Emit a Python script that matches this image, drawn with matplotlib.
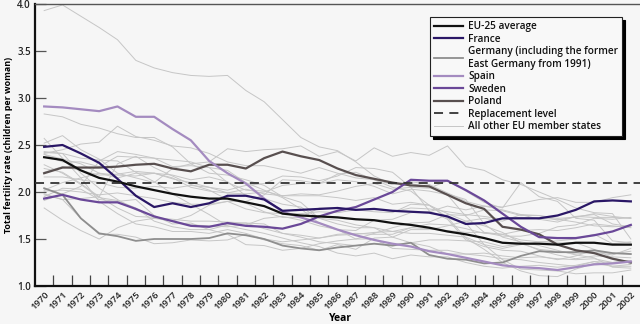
import numpy as np
import matplotlib
matplotlib.use('Agg')
import matplotlib.pyplot as plt
from matplotlib.ticker import FixedLocator, FormatStrFormatter

years = list(range(1970, 2003))

eu25 = [2.37, 2.34, 2.23, 2.15, 2.11, 2.06, 2.02, 1.98, 1.95, 1.93, 1.93,
        1.89, 1.85, 1.77, 1.75, 1.74, 1.73, 1.71, 1.70, 1.67, 1.65, 1.62,
        1.58, 1.55, 1.51, 1.46, 1.45, 1.45, 1.44, 1.46, 1.46, 1.44, 1.44]
france = [2.48, 2.50, 2.41, 2.31, 2.14, 1.96, 1.84, 1.88, 1.84, 1.88, 1.96,
          1.96, 1.92, 1.80, 1.81, 1.82, 1.83, 1.81, 1.82, 1.80, 1.79, 1.78,
          1.74, 1.66, 1.67, 1.72, 1.72, 1.72, 1.75, 1.81, 1.90, 1.91, 1.90]
germany = [2.04, 1.97, 1.72, 1.56, 1.53, 1.48, 1.50, 1.50, 1.50, 1.51, 1.56,
           1.54, 1.50, 1.43, 1.40, 1.38, 1.41, 1.43, 1.45, 1.43, 1.46, 1.33,
           1.29, 1.28, 1.24, 1.25, 1.32, 1.37, 1.36, 1.36, 1.38, 1.35, 1.34]
spain = [2.91, 2.90, 2.88, 2.86, 2.91, 2.80, 2.80, 2.67, 2.55, 2.33, 2.20,
         2.09, 1.93, 1.79, 1.73, 1.67, 1.60, 1.54, 1.49, 1.45, 1.42, 1.37,
         1.34, 1.30, 1.26, 1.22, 1.20, 1.19, 1.17, 1.20, 1.23, 1.24, 1.26]
sweden = [1.93, 1.97, 1.92, 1.89, 1.89, 1.82, 1.74, 1.69, 1.64, 1.63, 1.67,
          1.64, 1.63, 1.61, 1.66, 1.74, 1.80, 1.84, 1.92, 2.00, 2.13, 2.12,
          2.12, 2.02, 1.91, 1.77, 1.63, 1.52, 1.51, 1.51, 1.54, 1.58, 1.65]
poland = [2.20, 2.26, 2.26, 2.26, 2.27, 2.29, 2.30, 2.25, 2.22, 2.29, 2.29,
          2.25, 2.36, 2.43, 2.38, 2.34, 2.25, 2.18, 2.14, 2.10, 2.07, 2.06,
          1.97, 1.88, 1.82, 1.63, 1.60, 1.55, 1.44, 1.38, 1.35, 1.29, 1.25]
replacement = 2.1

# remaining member states, one row per country
others = [
    [2.29, 2.20, 2.08, 1.94, 1.91, 1.83, 1.69, 1.63, 1.60, 1.60, 1.65, 1.67, 1.66, 1.56, 1.52, 1.47, 1.45,
     1.43, 1.45, 1.44, 1.46, 1.49, 1.49, 1.48, 1.47, 1.42, 1.45, 1.39, 1.37, 1.34, 1.36, 1.33, 1.40],
    [2.25, 2.21, 2.09, 1.95, 1.83, 1.74, 1.73, 1.71, 1.69, 1.69, 1.68, 1.67, 1.61, 1.56, 1.54, 1.51, 1.54,
     1.55, 1.57, 1.58, 1.62, 1.66, 1.65, 1.61, 1.56, 1.55, 1.59, 1.60, 1.59, 1.62, 1.66, 1.64, 1.62],
    [2.52, 2.60, 2.45, 2.35, 2.20, 2.15, 2.10, 2.25, 2.30, 2.32, 2.46, 2.43, 2.45, 2.46, 2.49, 2.38, 2.43,
     2.33, 2.47, 2.38, 2.42, 2.39, 2.49, 2.27, 2.23, 2.13, 2.08, 2.00, 1.92, 1.83, 1.78, 1.77, 1.50],
    [1.91, 1.98, 2.06, 2.33, 2.43, 2.40, 2.36, 2.34, 2.32, 2.26, 2.10, 2.02, 2.01, 1.96, 1.96, 1.96, 1.94,
     1.91, 1.94, 1.87, 1.89, 1.86, 1.72, 1.67, 1.44, 1.28, 1.18, 1.17, 1.16, 1.13, 1.14, 1.14, 1.17],
    [1.95, 2.04, 2.03, 1.92, 1.90, 1.92, 1.75, 1.66, 1.67, 1.60, 1.55, 1.44, 1.43, 1.38, 1.40, 1.45, 1.48,
     1.50, 1.56, 1.62, 1.67, 1.68, 1.76, 1.75, 1.81, 1.80, 1.75, 1.75, 1.72, 1.73, 1.77, 1.74, 1.72],
    [2.16, 2.16, 2.13, 2.10, 2.05, 2.04, 2.06, 2.04, 2.07, 2.05, 2.02, 2.07, 2.09, 2.17, 2.16, 2.12, 2.17,
     2.26, 2.25, 2.21, 2.05, 1.80, 1.71, 1.49, 1.42, 1.38, 1.37, 1.32, 1.28, 1.32, 1.38, 1.34, 1.37],
    [1.83, 1.70, 1.59, 1.50, 1.62, 1.69, 1.72, 1.69, 1.65, 1.64, 1.63, 1.65, 1.72, 1.74, 1.70, 1.64, 1.60,
     1.59, 1.70, 1.71, 1.78, 1.79, 1.85, 1.81, 1.85, 1.81, 1.76, 1.75, 1.70, 1.74, 1.73, 1.73, 1.72],
    [2.40, 2.32, 2.32, 2.27, 2.38, 2.37, 2.36, 2.27, 2.28, 2.26, 2.23, 2.10, 2.02, 1.94, 1.82, 1.67, 1.60,
     1.50, 1.50, 1.40, 1.39, 1.38, 1.38, 1.34, 1.35, 1.32, 1.30, 1.31, 1.29, 1.28, 1.29, 1.25, 1.27],
    [1.98, 1.92, 1.93, 1.95, 2.30, 2.38, 2.26, 2.17, 2.08, 2.02, 1.92, 1.88, 1.79, 1.73, 1.73, 1.83, 1.83,
     1.81, 1.79, 1.78, 1.87, 1.86, 1.77, 1.69, 1.64, 1.57, 1.46, 1.38, 1.33, 1.29, 1.32, 1.31, 1.30],
    [3.93, 3.99, 3.87, 3.75, 3.62, 3.40, 3.32, 3.27, 3.24, 3.23, 3.24, 3.08, 2.96, 2.77, 2.58, 2.48, 2.44,
     2.32, 2.17, 2.08, 2.11, 2.08, 1.99, 1.90, 1.85, 1.84, 1.88, 1.92, 1.94, 1.89, 1.89, 1.94, 1.97],
    [2.42, 2.41, 2.36, 2.34, 2.33, 2.21, 2.11, 1.98, 1.87, 1.76, 1.64, 1.60, 1.56, 1.51, 1.46, 1.42, 1.35,
     1.32, 1.35, 1.29, 1.33, 1.31, 1.31, 1.25, 1.21, 1.19, 1.21, 1.22, 1.20, 1.22, 1.26, 1.25, 1.27],
    [2.01, 2.02, 2.00, 1.97, 1.99, 1.96, 1.93, 1.89, 1.87, 1.87, 1.90, 1.90, 1.97, 2.13, 2.12, 2.09, 2.19,
     2.21, 2.13, 2.05, 2.01, 1.86, 1.73, 1.51, 1.39, 1.25, 1.16, 1.11, 1.10, 1.18, 1.24, 1.21, 1.23],
    [2.40, 2.35, 2.30, 2.20, 2.15, 2.20, 2.20, 2.15, 2.05, 2.01, 1.99, 1.98, 2.00, 2.07, 2.09, 2.09, 2.13,
     2.11, 2.06, 1.98, 2.03, 2.01, 1.97, 1.74, 1.57, 1.55, 1.49, 1.47, 1.46, 1.46, 1.39, 1.30, 1.24],
    [1.97, 1.92, 1.72, 1.55, 1.55, 1.52, 1.45, 1.46, 1.49, 1.48, 1.49, 1.55, 1.49, 1.45, 1.43, 1.38, 1.44,
     1.39, 1.51, 1.52, 1.60, 1.60, 1.64, 1.69, 1.72, 1.69, 1.76, 1.71, 1.68, 1.74, 1.76, 1.66, 1.63],
    [2.02, 2.10, 2.15, 2.20, 2.18, 2.17, 2.20, 2.14, 2.10, 2.05, 1.99, 2.03, 1.98, 1.96, 1.98, 1.97, 2.01,
     2.06, 2.09, 2.03, 2.05, 2.04, 2.12, 2.01, 1.89, 1.83, 2.10, 1.95, 1.90, 1.72, 1.70, 1.48, 1.46],
    [2.57, 2.36, 2.15, 1.90, 1.77, 1.66, 1.63, 1.58, 1.58, 1.56, 1.60, 1.56, 1.50, 1.47, 1.49, 1.51, 1.55,
     1.56, 1.55, 1.55, 1.62, 1.61, 1.59, 1.57, 1.57, 1.53, 1.53, 1.56, 1.63, 1.65, 1.72, 1.71, 1.73],
    [2.83, 2.80, 2.72, 2.68, 2.62, 2.58, 2.58, 2.48, 2.30, 2.20, 2.18, 2.13, 2.07, 1.95, 1.89, 1.72, 1.66,
     1.62, 1.62, 1.58, 1.56, 1.56, 1.54, 1.52, 1.44, 1.40, 1.44, 1.47, 1.48, 1.50, 1.55, 1.45, 1.47],
    [2.41, 2.45, 2.51, 2.53, 2.70, 2.59, 2.55, 2.49, 2.47, 2.41, 2.32, 2.28, 2.28, 2.24, 2.20, 2.26, 2.20,
     2.15, 2.13, 2.08, 2.09, 2.05, 1.98, 1.92, 1.66, 1.52, 1.47, 1.43, 1.38, 1.33, 1.30, 1.20, 1.19],
    [2.21, 2.27, 2.23, 2.18, 2.19, 2.22, 2.20, 2.18, 2.13, 2.16, 2.11, 1.96, 1.93, 1.87, 1.84, 1.72, 1.70,
     1.65, 1.62, 1.52, 1.46, 1.42, 1.34, 1.34, 1.32, 1.29, 1.28, 1.25, 1.23, 1.21, 1.26, 1.21, 1.21],
    [2.43, 2.41, 2.20, 2.04, 1.92, 1.81, 1.74, 1.69, 1.75, 1.86, 1.90, 1.82, 1.78, 1.77, 1.77, 1.79, 1.78,
     1.81, 1.82, 1.79, 1.83, 1.82, 1.79, 1.76, 1.74, 1.71, 1.73, 1.72, 1.71, 1.68, 1.64, 1.63, 1.64],
]

plt.rcParams['font.family'] = ['Open Sans', 'DejaVu Sans']
bg = '#f6f6f6'

fig = plt.figure(figsize=(6.4, 3.24), dpi=100, facecolor=bg)
ax = fig.add_axes([35 / 640, 1 - 286 / 324, 605 / 640, 282 / 324], facecolor=bg)

for i, row in enumerate(others):
    ax.plot(years, row, color='#c6c6c6', lw=0.7, zorder=1,
            label='All other EU member states' if i == 0 else None)

l_ger, = ax.plot(years, germany, color='#8e8e8e', lw=1.3, zorder=2,
                 label='Germany (including the former\nEast Germany from 1991)')
l_pol, = ax.plot(years, poland, color='#584f4f', lw=1.6, zorder=3, label='Poland')
l_spa, = ax.plot(years, spain, color='#a48bc0', lw=1.6, zorder=4, label='Spain')
l_swe, = ax.plot(years, sweden, color='#6a4898', lw=1.6, zorder=5, label='Sweden')
l_fra, = ax.plot(years, france, color='#2a1766', lw=1.6, zorder=6, label='France')
l_eu, = ax.plot(years, eu25, color='#111111', lw=1.6, zorder=7, label='EU-25 average')
l_rep = ax.axhline(replacement, color='#333333', lw=1.3, dashes=(5, 3.5), zorder=8,
                   label='Replacement level')
l_oth = ax.get_lines()[0]

ax.set_xlim(1969.5, 2002.5)
ax.set_ylim(1.0, 4.0)

# tick marks sit between the years, labels on the years
ax.xaxis.set_major_locator(FixedLocator(np.arange(1970.5, 2002, 1)))
ax.xaxis.set_minor_locator(FixedLocator(years))
ax.tick_params(axis='x', which='major', direction='in', length=8, width=0.9,
               color='#444444', labelbottom=False)
ax.tick_params(axis='x', which='minor', length=0, pad=3)
ax.set_xticks(years, [str(y) for y in years], minor=True)
for lab in ax.get_xticklabels(minor=True):
    lab.set_rotation(45)
    lab.set_ha('right')
    lab.set_rotation_mode('anchor')
    lab.set_fontsize(6.8)
    lab.set_fontweight('semibold')
    lab.set_color('#222222')

ax.set_yticks(np.arange(1.0, 4.01, 0.5))
ax.yaxis.set_major_formatter(FormatStrFormatter('%.1f'))
ax.tick_params(axis='y', direction='in', length=8, width=0.9, color='#555555',
               labelsize=7, pad=3, labelcolor='#222222')
for lab in ax.get_yticklabels():
    lab.set_fontweight('semibold')

for side in ('left', 'bottom'):
    ax.spines[side].set_linewidth(1.6)
    ax.spines[side].set_color('#111111')
ax.spines['top'].set_linewidth(1.0)
ax.spines['top'].set_color('#555555')
ax.spines['right'].set_visible(False)

ax.set_xlabel('Year', fontsize=7.5, fontweight='bold')
ax.xaxis.set_label_coords(0.505, -0.095)
ax.set_ylabel('Total fertility rate (children per woman)', fontsize=6.4,
              fontweight='bold')
ax.yaxis.set_label_coords(-0.036, 0.5)

handles = [l_eu, l_fra, l_ger, l_spa, l_swe, l_pol, l_rep, l_oth]
leg = ax.legend(handles=handles, labels=[h.get_label() for h in handles],
                loc='upper left', bbox_to_anchor=(395 / 605, 1 - 13 / 282),
                fontsize=7.2, frameon=True, fancybox=False,
                shadow={'color': 'black', 'alpha': 1.0},
                edgecolor='#222222', facecolor='#f8f8f8', framealpha=1,
                handlelength=2.9, handletextpad=0.5, labelspacing=0.15,
                borderpad=0.4, borderaxespad=0)
leg.get_frame().set_linewidth(0.8)
for t in leg.get_texts():
    t.set_fontweight('semibold')
    t.set_color('#111111')

fig.savefig('out.png', dpi=100, facecolor=bg)
